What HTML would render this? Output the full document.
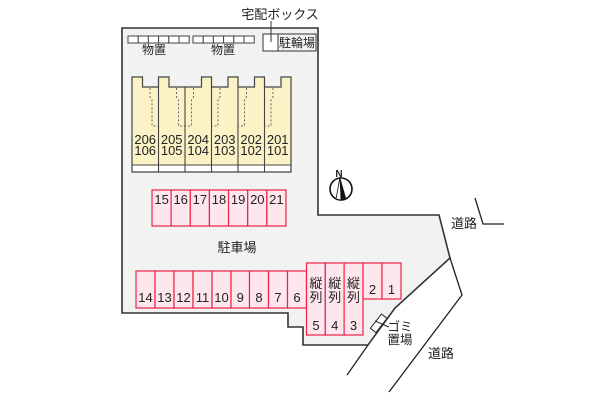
<!DOCTYPE html>
<html><head><meta charset="utf-8"><style>
html,body{margin:0;padding:0;background:#fff;}
svg{display:block;}
text{font-family:"Liberation Sans","Noto Sans CJK JP",sans-serif;fill:#222;}
</style></head><body>
<svg width="600" height="400" viewBox="0 0 600 400" xmlns="http://www.w3.org/2000/svg">
<!-- lot -->
<polygon points="122,28 318,28 318,215 439,215 450,258 395,308 368,345 303,345 303,327 288,327 288,313 122,313" fill="#f2f2f2" stroke="#333" stroke-width="1.6"/>
<line x1="368" y1="345" x2="347" y2="375" stroke="#222" stroke-width="1.3"/>
<!-- road lines -->
<polyline points="450,258 462,295 389,392" fill="none" stroke="#222" stroke-width="1.3"/>
<polyline points="475,198 483,224 504,224" fill="none" stroke="#222" stroke-width="1.3"/>
<text x="464" y="228" font-size="13" text-anchor="middle">道路</text>
<text x="441" y="358" font-size="13" text-anchor="middle">道路</text>

<!-- storage -->
<g fill="#fff" stroke="#444" stroke-width="1">
<rect x="128" y="36" width="10.2" height="7"/><rect x="138.2" y="36" width="10.2" height="7"/><rect x="148.4" y="36" width="10.2" height="7"/><rect x="158.6" y="36" width="10.2" height="7"/><rect x="168.8" y="36" width="10.2" height="7"/><rect x="179" y="36" width="10.2" height="7"/>
<rect x="193" y="36" width="10.2" height="7"/><rect x="203.2" y="36" width="10.2" height="7"/><rect x="213.4" y="36" width="10.2" height="7"/><rect x="223.6" y="36" width="10.2" height="7"/><rect x="233.8" y="36" width="10.2" height="7"/><rect x="244" y="36" width="10.2" height="7"/>
</g>
<text x="154" y="54" font-size="12" text-anchor="middle">物置</text>
<text x="223" y="54" font-size="12" text-anchor="middle">物置</text>

<!-- bike parking & delivery box -->
<rect x="263" y="34" width="53" height="17" fill="#f2f2f2" stroke="#333" stroke-width="1"/>
<rect x="263" y="34" width="15" height="17" fill="#fff" stroke="#333" stroke-width="1"/>
<text x="297" y="47" font-size="12" text-anchor="middle">駐輪場</text>
<line x1="271" y1="21" x2="271" y2="42" stroke="#333" stroke-width="1"/>
<text x="280" y="19" font-size="13" text-anchor="middle">宅配ボックス</text>

<!-- building -->
<rect x="132" y="160" width="159" height="12" fill="#fff"/>
<path d="M132,165 L132,77 L142.5,77 L142.5,87 L158.5,87 L158.5,77 L169,77 L169,87 L201.5,87 L201.5,77 L211.5,77 L211.5,87 L228,87 L228,77 L238,77 L238,87 L254.5,87 L254.5,77 L264.5,77 L264.5,87 L281,87 L281,77 L291,77 L291,165 Z" fill="#fbf3c6"/>
<path d="M132,172 L132,77 L142.5,77 L142.5,87 L158.5,87 L158.5,77 L169,77 L169,87 L201.5,87 L201.5,77 L211.5,77 L211.5,87 L228,87 L228,77 L238,77 L238,87 L254.5,87 L254.5,77 L264.5,77 L264.5,87 L281,87 L281,77 L291,77 L291,172 Z" fill="none" stroke="#444" stroke-width="1.2"/>
<g stroke="#444" stroke-width="1.1">
<line x1="158.5" y1="87" x2="158.5" y2="172"/><line x1="185" y1="87" x2="185" y2="172"/><line x1="211.5" y1="87" x2="211.5" y2="172"/><line x1="238" y1="87" x2="238" y2="172"/><line x1="264.5" y1="87" x2="264.5" y2="172"/>
<line x1="132" y1="165" x2="291" y2="165"/>
</g>
<g fill="none" stroke="#666" stroke-width="1" stroke-dasharray="2,2">
<polyline points="150,88 150,97 152,100 152,126 158.5,126"/>
<polyline points="176.5,88 176.5,97 178.5,100 178.5,126 185,126"/>
<polyline points="193.5,88 193.5,97 191.5,100 191.5,126 185,126"/>
<polyline points="220,88 220,97 218,100 218,126 211.5,126"/>
<polyline points="246.5,88 246.5,97 244.5,100 244.5,126 238,126"/>
<polyline points="273,88 273,97 271,100 271,126 264.5,126"/>
</g>
<g font-size="13" text-anchor="middle">
<text x="145.2" y="144">206</text><text x="145.2" y="155">106</text>
<text x="171.7" y="144">205</text><text x="171.7" y="155">105</text>
<text x="198.2" y="144">204</text><text x="198.2" y="155">104</text>
<text x="224.7" y="144">203</text><text x="224.7" y="155">103</text>
<text x="251.2" y="144">202</text><text x="251.2" y="155">102</text>
<text x="277.7" y="144">201</text><text x="277.7" y="155">101</text>
</g>

<!-- parking 15-21 -->
<g fill="#fde6ee" stroke="#ee2244" stroke-width="1.2">
<rect x="152" y="190" width="19.14" height="36"/><rect x="171.14" y="190" width="19.14" height="36"/><rect x="190.28" y="190" width="19.14" height="36"/><rect x="209.42" y="190" width="19.14" height="36"/><rect x="228.56" y="190" width="19.14" height="36"/><rect x="247.7" y="190" width="19.14" height="36"/><rect x="266.84" y="190" width="19.14" height="36"/>
</g>
<g font-size="13" text-anchor="middle">
<text x="161.6" y="204">15</text><text x="180.7" y="204">16</text><text x="199.9" y="204">17</text><text x="219" y="204">18</text><text x="238.1" y="204">19</text><text x="257.3" y="204">20</text><text x="276.4" y="204">21</text>
</g>
<text x="237" y="252" font-size="13" text-anchor="middle">駐車場</text>

<!-- parking 14-6 -->
<g fill="#fde6ee" stroke="#ee2244" stroke-width="1.2">
<rect x="136" y="271" width="19" height="37"/><rect x="155" y="271" width="19" height="37"/><rect x="174" y="271" width="19" height="37"/><rect x="193" y="271" width="19" height="37"/><rect x="212" y="271" width="19" height="37"/><rect x="231" y="271" width="18.5" height="37"/><rect x="249.5" y="271" width="19" height="37"/><rect x="268.5" y="271" width="19" height="37"/><rect x="287.5" y="271" width="19" height="37"/>
</g>
<g font-size="13" text-anchor="middle">
<text x="145.5" y="302">14</text><text x="164.5" y="302">13</text><text x="183.5" y="302">12</text><text x="202.5" y="302">11</text><text x="221.5" y="302">10</text><text x="240.2" y="302">9</text><text x="259" y="302">8</text><text x="278" y="302">7</text><text x="297" y="302">6</text>
</g>

<!-- parking 5-1 -->
<g fill="#fde6ee" stroke="#ee2244" stroke-width="1.2">
<rect x="306.5" y="263" width="18.8" height="72"/><rect x="325.3" y="263" width="18.8" height="72"/><rect x="344.1" y="263" width="18.9" height="72"/>
<rect x="363" y="263" width="19" height="36"/><rect x="382" y="263" width="19" height="36"/>
</g>
<g font-size="13" text-anchor="middle">
<text x="316" y="288">縦</text><text x="316" y="302">列</text><text x="316" y="330">5</text>
<text x="334.7" y="288">縦</text><text x="334.7" y="302">列</text><text x="334.7" y="330">4</text>
<text x="353.5" y="288">縦</text><text x="353.5" y="302">列</text><text x="353.5" y="330">3</text>
<text x="372.5" y="294">2</text><text x="391.5" y="294">1</text>
</g>

<!-- garbage -->
<rect x="-3.5" y="-9" width="7" height="18" fill="#fff" stroke="#222" stroke-width="1" transform="translate(378.7,323.3) rotate(38)"/>
<line x1="375" y1="321" x2="389" y2="327" stroke="#222" stroke-width="1"/>
<text x="400" y="331" font-size="12.5" text-anchor="middle">ゴミ</text>
<text x="400" y="344" font-size="12.5" text-anchor="middle">置場</text>

<!-- compass -->
<circle cx="341" cy="189" r="11" fill="#fff" stroke="#111" stroke-width="1.6"/>
<polygon points="340,177 336,199 341,200" fill="#fff" stroke="#111" stroke-width="0.8"/>
<polygon points="340,177 341,200 346,198" fill="#111"/>
<text x="339" y="177" font-size="10" font-weight="bold" text-anchor="middle">N</text>
</svg>
</body></html>
